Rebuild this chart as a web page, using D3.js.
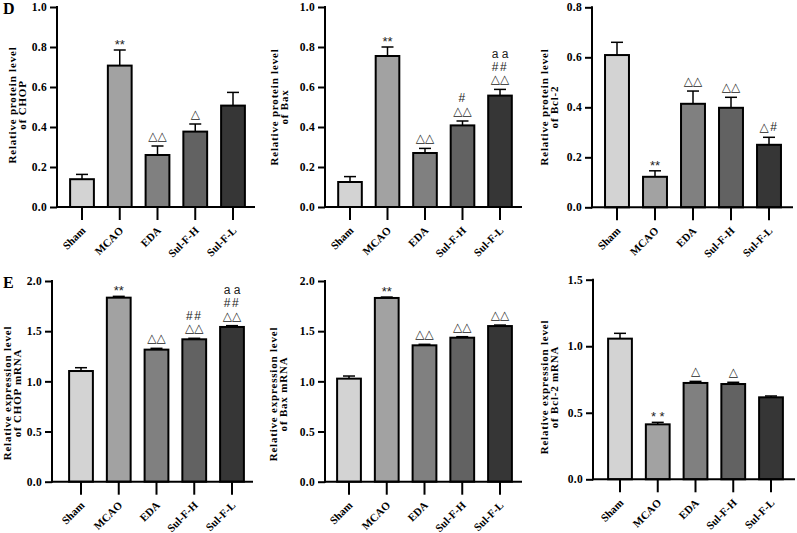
<!DOCTYPE html>
<html>
<head>
<meta charset="utf-8">
<script src="https://cdn.jsdelivr.net/npm/d3@7"></script>
<style>
  body { margin: 0; background: #fff; }
  svg { display: block; }
</style>
</head>
<body>
<div id="graphic"></div>
<script>
// groups and bar fills
const groups = ["Sham", "MCAO", "EDA", "Sul-F-H", "Sul-F-L"];
const fills = ["#d3d3d3", "#a2a2a2", "#808080", "#626262", "#363636"];

// means and SD (upper error only)
const chopProtein = [0.139, 0.707, 0.260, 0.377, 0.507];
const chopProteinSd = [0.024, 0.078, 0.045, 0.038, 0.066];
const baxProtein = [0.125, 0.755, 0.270, 0.408, 0.557];
const baxProteinSd = [0.027, 0.045, 0.023, 0.022, 0.031];
const bcl2Protein = [0.609, 0.122, 0.414, 0.398, 0.250];
const bcl2ProteinSd = [0.051, 0.024, 0.051, 0.042, 0.030];
const chopMrna = [1.103, 1.834, 1.316, 1.419, 1.542];
const chopMrnaSd = [0.033, 0.013, 0.013, 0.010, 0.013];
const baxMrna = [1.027, 1.831, 1.359, 1.435, 1.551];
const baxMrnaSd = [0.026, 0.009, 0.010, 0.010, 0.010];
const bcl2Mrna = [1.057, 0.413, 0.724, 0.716, 0.616];
const bcl2MrnaSd = [0.040, 0.015, 0.012, 0.013, 0.010];

// significance marks, bottom line first
const chopProteinSig = [[], ["**"], ["△△"], ["△"], []];
const baxProteinSig = [[], ["**"], ["△△"], ["△△", "#"], ["△△", "##", "a a"]];
const bcl2ProteinSig = [[], ["**"], ["△△"], ["△△"], ["△#"]];
const chopMrnaSig = [[], ["**"], ["△△"], ["△△", "##"], ["△△", "##", "a a"]];
const baxMrnaSig = [[], ["**"], ["△△"], ["△△"], ["△△"]];
const bcl2MrnaSig = [[], ["* *"], ["△"], ["△"], []];

// y ticks
const ticksProtein = [0, 0.2, 0.4, 0.6, 0.8, 1.0];
const ticksBcl2Protein = [0, 0.2, 0.4, 0.6, 0.8];
const ticksMrna = [0, 0.5, 1.0, 1.5, 2.0];
const ticksBcl2Mrna = [0, 0.5, 1.0, 1.5];

// panels: data + layout in pixels
const panels = [
  { letter: "D", values: chopProtein, sd: chopProteinSd, sig: chopProteinSig, ticks: ticksProtein,
    title: ["Relative protein level", "of CHOP"],
    ax: 57, top: 7, bottom: 207, c0: 82, c4: 233, end: 255, tx: 16, ty: 105 },
  { values: baxProtein, sd: baxProteinSd, sig: baxProteinSig, ticks: ticksProtein,
    title: ["Relative protein level", "of Bax"],
    ax: 325, top: 7, bottom: 207, c0: 350, c4: 500, end: 522, tx: 278, ty: 107 },
  { values: bcl2Protein, sd: bcl2ProteinSd, sig: bcl2ProteinSig, ticks: ticksBcl2Protein,
    title: ["Relative protein level", "of Bcl-2"],
    ax: 592, top: 7.3, bottom: 207.3, c0: 617, c4: 769, end: 793, tx: 548, ty: 107 },
  { letter: "E", values: chopMrna, sd: chopMrnaSd, sig: chopMrnaSig, ticks: ticksMrna,
    title: ["Relative expression level", "of CHOP mRNA"],
    ax: 52, top: 281, bottom: 481.7, c0: 81, c4: 232, end: 253, tx: 11, ty: 393 },
  { values: baxMrna, sd: baxMrnaSd, sig: baxMrnaSig, ticks: ticksMrna,
    title: ["Relative expression level", "of Bax mRNA"],
    ax: 325, top: 281, bottom: 481.7, c0: 349, c4: 500, end: 522, tx: 277, ty: 394 },
  { values: bcl2Mrna, sd: bcl2MrnaSd, sig: bcl2MrnaSig, ticks: ticksBcl2Mrna,
    title: ["Relative expression level", "of Bcl-2 mRNA"],
    ax: 593, top: 279.7, bottom: 479.3, c0: 620, c4: 771, end: 795, tx: 548, ty: 387 }
];

const svg = d3.select("#graphic")
  .append("svg")
  .attr("width", 797)
  .attr("height", 533);

const serif = "'Liberation Serif', 'Times New Roman', serif";
const sans = "'Liberation Sans', Arial, 'DejaVu Sans', sans-serif";

panels.forEach(p => {
  const g = svg.append("g");
  const step = (p.c4 - p.c0) / 4;

  const x = d3.scaleBand()
    .domain(groups)
    .range([p.c0 - step / 2, p.c4 + step / 2])
    .paddingInner(0.37)
    .paddingOuter(0.185);

  const y = d3.scaleLinear()
    .domain([0, d3.max(p.ticks)])
    .range([p.bottom, p.top]);

  // y axis
  const yAxis = g.append("g")
    .attr("transform", `translate(${p.ax},0)`)
    .call(d3.axisLeft(y).tickValues(p.ticks).tickFormat(d3.format(".1f"))
      .tickSize(7).tickSizeOuter(0).tickPadding(3));
  yAxis.select(".domain").remove();
  yAxis.selectAll("line").attr("stroke", "#000").attr("stroke-width", 2);
  yAxis.selectAll("text")
    .attr("font-family", serif).attr("font-weight", "bold")
    .attr("font-size", 11.5).attr("letter-spacing", 0.3).attr("fill", "#000");
  g.append("line")
    .attr("x1", p.ax).attr("x2", p.ax)
    .attr("y1", p.bottom + 1).attr("y2", p.top - 1)
    .attr("stroke", "#000").attr("stroke-width", 2);

  // bars
  const data = groups.map((k, i) => ({ k, v: p.values[i], e: p.sd[i], s: p.sig[i], f: fills[i] }));

  // error bars (up only)
  const eb = g.selectAll(".err").data(data).join("g").attr("class", "err");
  eb.append("line")
    .attr("x1", d => x(d.k) + x.bandwidth() / 2)
    .attr("x2", d => x(d.k) + x.bandwidth() / 2)
    .attr("y1", d => y(d.v))
    .attr("y2", d => y(d.v + d.e))
    .attr("stroke", "#000").attr("stroke-width", 1.5);
  eb.append("line")
    .attr("x1", d => x(d.k) + x.bandwidth() / 2 - 6)
    .attr("x2", d => x(d.k) + x.bandwidth() / 2 + 6)
    .attr("y1", d => y(d.v + d.e))
    .attr("y2", d => y(d.v + d.e))
    .attr("stroke", "#000").attr("stroke-width", 1.5);

  g.selectAll(".bar").data(data).join("rect")
    .attr("class", "bar")
    .attr("x", d => x(d.k))
    .attr("y", d => y(d.v))
    .attr("width", x.bandwidth())
    .attr("height", d => y(0) - y(d.v))
    .attr("fill", d => d.f)
    .attr("stroke", "#000")
    .attr("stroke-width", 2);

  // x axis
  const xAxis = g.append("g")
    .attr("transform", `translate(0,${p.bottom})`)
    .call(d3.axisBottom(x).tickSize(13).tickSizeOuter(0));
  xAxis.select(".domain").remove();
  xAxis.selectAll("line").attr("stroke", "#000").attr("stroke-width", 2);
  xAxis.selectAll("text")
    .attr("font-family", serif).attr("font-weight", "bold")
    .attr("font-size", 11).attr("fill", "#000")
    .attr("text-anchor", "end")
    .attr("x", 0).attr("y", 0)
    .attr("dy", "0.35em")
    .attr("transform", "translate(1.5,21.5) rotate(-45)");
  g.append("line")
    .attr("x1", p.ax - 1).attr("x2", p.end)
    .attr("y1", p.bottom).attr("y2", p.bottom)
    .attr("stroke", "#000").attr("stroke-width", 2);

  // significance marks
  data.forEach(d => {
    const cx = x(d.k) + x.bandwidth() / 2;
    const base = y(d.v + d.e);
    d.s.forEach((t, i) => {
      const stars = t.indexOf("*") >= 0;
      g.append("text")
        .attr("x", cx)
        .attr("y", stars ? base - 1 : base - 6 - i * 12.6)
        .attr("text-anchor", "middle")
        .attr("font-family", sans)
        .attr("font-size", stars ? 13 : 12)
        .attr("letter-spacing", t.indexOf("#") >= 0 ? 1.5 : 0)
        .attr("fill", "#222")
        .text(t);
    });
  });

  // y title: two lines, baselines 10px apart
  const title = g.append("text")
    .attr("transform", `translate(${p.tx},${p.ty}) rotate(-90)`)
    .attr("text-anchor", "middle")
    .attr("font-family", serif).attr("font-weight", "bold")
    .attr("font-size", 11).attr("letter-spacing", 0.8)
    .attr("fill", "#000");
  p.title.forEach((t, i) => {
    title.append("tspan")
      .attr("x", 0)
      .attr("y", i * 10)
      .text(t);
  });

  if (p.letter) {
    svg.append("text")
      .attr("x", 3).attr("y", p.top + 6.5)
      .attr("font-family", serif).attr("font-weight", "bold")
      .attr("font-size", 16).attr("fill", "#000")
      .text(p.letter);
  }
});
</script>
</body>
</html>
